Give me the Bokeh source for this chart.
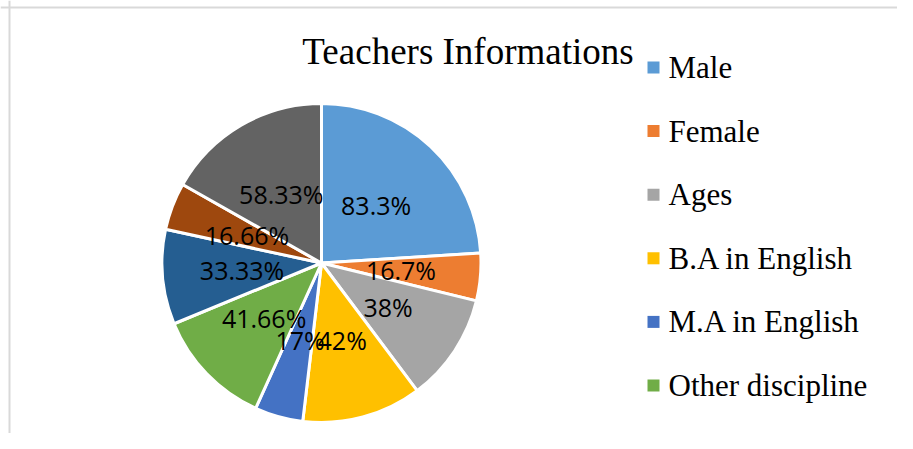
import math
from bokeh.plotting import figure
from bokeh.models import ColumnDataSource, Range1d, Span
from bokeh.core.properties import value
from bokeh.embed import file_html
from bokeh.resources import INLINE

# ---- data ----
title_text = "Teachers Informations"
legend_names = ["Male", "Female", "Ages", "B.A in English", "M.A in English", "Other discipline"]
slice_values = [83.3, 16.7, 38, 42, 17, 41.66, 33.33, 16.66, 58.33]
slice_labels = ["83.3%", "16.7%", "38%", "42%", "17%", "41.66%", "33.33%", "16.66%", "58.33%"]
slice_colors = ["#5B9BD5", "#ED7D31", "#A5A5A5", "#FFC000", "#4472C4",
                "#70AD47", "#255E91", "#9E480E", "#636363"]

# ---- layout ----
W, H = 897, 433
CX, CY, R = 321, H - 262.5, 159.5

p = figure(width=W, height=H, output_backend="svg", toolbar_location=None,
           x_range=Range1d(0, W), y_range=Range1d(0, H), min_border=0)
p.axis.visible = False
p.grid.visible = False
p.outline_line_color = None
p.background_fill_color = "white"
p.border_fill_color = "white"

# frame of the original chart area (top and left edges visible)
p.add_layout(Span(location=H - 7, dimension="width", line_color="#D9D9D9", line_width=2))
p.add_layout(Span(location=9, dimension="height", line_color="#D9D9D9", line_width=2))

total = sum(slice_values)
starts, ends, lx, ly = [], [], [], []
a = math.pi / 2
for v in slice_values:
    sweep = v / total * 2 * math.pi
    starts.append(a)
    ends.append(a - sweep)
    mid = a - sweep / 2
    lx.append(CX + 0.5 * R * math.cos(mid))
    ly.append(CY + 0.5 * R * math.sin(mid))
    a -= sweep

src = ColumnDataSource(dict(start=starts, end=ends, color=slice_colors,
                            lx=lx, ly=ly, label=slice_labels))
p.wedge(x=CX, y=CY, radius=R, start_angle="start", end_angle="end",
        direction="clock", fill_color="color", line_color="white",
        line_width=3, source=src)

p.text(x="lx", y="ly", text="label", source=src, text_font=value("Open Sans"),
       text_font_size="25px", text_align="center", text_baseline="middle",
       text_color="black")

# title
p.text(x=[467.5], y=[H - 50.5], text=[title_text], text_font=value("Liberation Serif"),
       text_font_size="37px", text_align="center", text_baseline="middle",
       text_color="black")

# legend (first six categories as shown)
n = len(legend_names)
step = 63.6
ly0 = H - 67
leg_y = [ly0 - i * step for i in range(n)]
leg_src = ColumnDataSource(dict(
    x=[653] * n, tx=[668] * n, y=leg_y,
    name=legend_names, color=slice_colors[:n]))
p.rect(x="x", y="y", width=12, height=12, fill_color="color", line_color=None,
       source=leg_src)
p.text(x="tx", y="y", text="name", source=leg_src,
       text_font=value("Liberation Serif"), text_font_size="31px",
       text_align="left", text_baseline="middle", text_color="black")

open("out.html", "w").write(file_html(p, INLINE))
